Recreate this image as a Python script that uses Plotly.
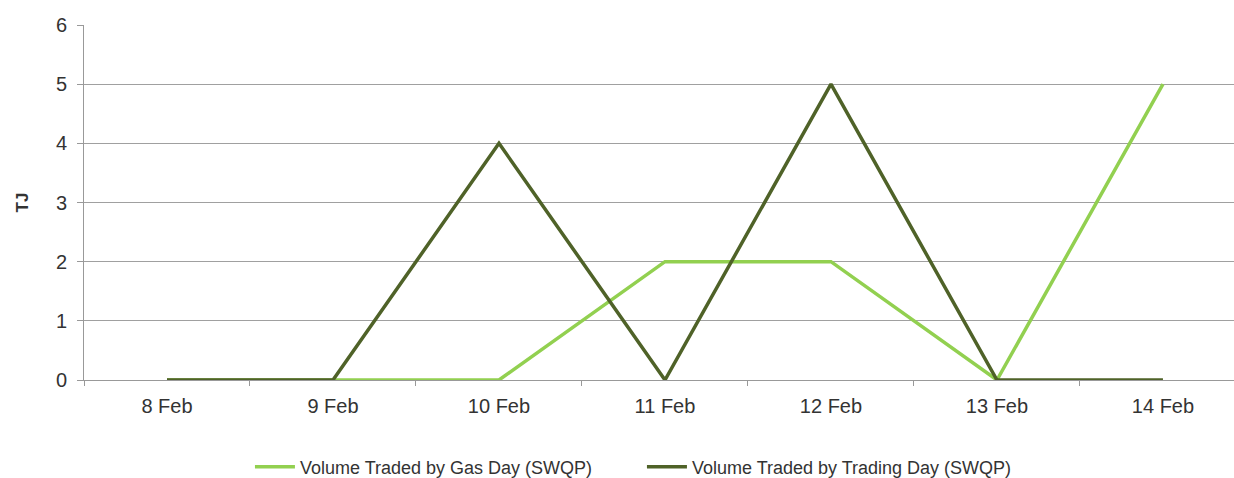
import plotly.graph_objects as go

categories = ["8 Feb", "9 Feb", "10 Feb", "11 Feb", "12 Feb", "13 Feb", "14 Feb"]
gas_day = [0, 0, 0, 2, 2, 0, 5]
trading_day = [0, 0, 4, 0, 5, 0, 0]
y_ticks = [0, 1, 2, 3, 4, 5, 6]

fig = go.Figure()
fig.add_trace(go.Scatter(x=categories, y=gas_day, mode="lines",
                         name="Volume Traded by Gas Day (SWQP)",
                         line=dict(color="#92D050", width=3.5)))
fig.add_trace(go.Scatter(x=categories, y=trading_day, mode="lines",
                         name="Volume Traded by Trading Day (SWQP)",
                         line=dict(color="#4F6228", width=3.5)))

fig.update_layout(
    width=1234, height=478,
    margin=dict(l=84, r=0, t=25, b=98, autoexpand=False),
    plot_bgcolor="white", paper_bgcolor="white",
    font=dict(family="Liberation Sans, Arial", color="#333333"),
    showlegend=True,
    legend=dict(orientation="h", x=0.1443, xanchor="left", y=-0.245, yanchor="middle",
                font=dict(size=18, color="#333333"), itemwidth=40,
                entrywidth=337, entrywidthmode="pixels"),
    xaxis=dict(type="category", range=[-0.5, 6.428], tickson="boundaries",
               ticks="outside", ticklen=5, tickcolor="#999999",
               showline=True, linecolor="#999999", linewidth=1,
               showgrid=False, tickfont=dict(size=20, color="#333333"),
               ticklabelstandoff=8),
    yaxis=dict(range=[0, 6], tickvals=y_ticks, ticks="outside", ticklen=6,
               tickcolor="#999999", showline=True, linecolor="#999999",
               showgrid=True, gridcolor="#A0A0A0", gridwidth=1, zeroline=False,
               tickfont=dict(size=20, color="#333333"), ticklabelstandoff=6,
               title=dict(text="<b>TJ</b>", font=dict(size=17, color="#333333"), standoff=22)),
)

fig.write_html("out.html", config={"displayModeBar": False},
               post_script="document.body.style.margin='0';document.body.style.overflow='hidden';")
